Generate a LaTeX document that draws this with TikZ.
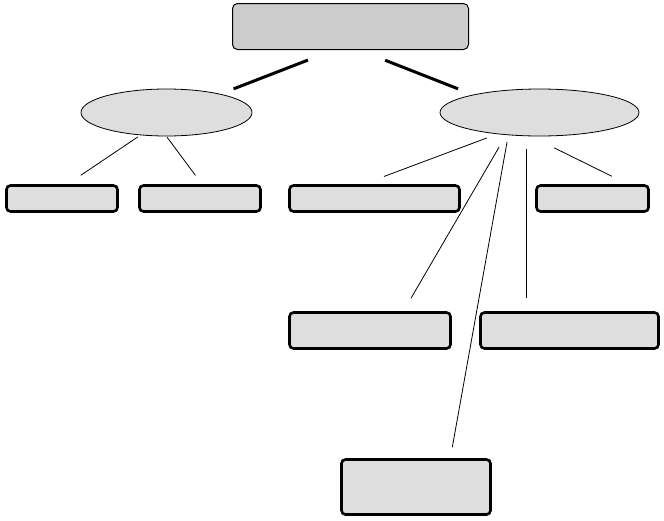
\documentclass[tikz,border=0pt]{standalone}
\usepackage{tikz}
\usetikzlibrary{shapes.geometric}
\definecolor{topgray}{gray}{0.8}
\definecolor{boxgray}{gray}{0.87}

\begin{document}
\begin{tikzpicture}[x=1pt, y=-1pt,
    topbox/.style={draw, fill=topgray, rounded corners=5pt, line width=1pt, inner sep=0pt},
    ellbox/.style={draw, ellipse, fill=boxgray, line width=0.8pt, inner sep=0pt},
    leafbox/.style={draw, fill=boxgray, rounded corners=4pt, line width=2.6pt, inner sep=0pt},
    thickline/.style={line width=3pt},
    thinline/.style={line width=0.8pt}]
            \useasboundingbox (0,0) rectangle (664,520);
            %顶层
            \node[topbox, minimum width=236pt, minimum height=46pt] (top) at (350.5,26.5) {};
            %第二层 (椭圆)
            \node[ellbox, minimum width=171pt, minimum height=47pt] (ellL) at (166.5,112.5) {};
            \node[ellbox, minimum width=199pt, minimum height=47pt] (ellR) at (539.5,112.5) {};
            %第三层
            \node[leafbox, minimum width=111pt, minimum height=26pt] (box1) at (62,198.5) {};
            \node[leafbox, minimum width=121pt, minimum height=26pt] (box2) at (200,198.5) {};
            \node[leafbox, minimum width=170pt, minimum height=26pt] (box3) at (374.5,198.5) {};
            \node[leafbox, minimum width=112pt, minimum height=26pt] (box4) at (592.5,198.5) {};
            \node[leafbox, minimum width=161pt, minimum height=36pt] (box5) at (370,330.5) {};
            \node[leafbox, minimum width=178pt, minimum height=36pt] (box6) at (569.5,330.5) {};
            \node[leafbox, minimum width=149pt, minimum height=55pt] (box7) at (416,487) {};
            %粗线
            \draw[thickline, shorten <=28pt, shorten >=14pt] (top.235) -- (ellL.19);
            \draw[thickline, shorten <=28pt, shorten >=16pt] (top.290) -- (ellR.165);
            %细线, 两端留空
            \draw[thinline, shorten <=3pt, shorten >=16pt] (ellL.221) -- (box1.69);
            \draw[thinline, shorten <=1pt, shorten >=11pt] (ellL.south) -- (box2.82);
            \draw[thinline, shorten <=11pt, shorten >=22pt] (ellR.207) -- (box3.128);
            \draw[thinline, shorten <=26pt, shorten >=18pt] (ellR.250) -- (box4.22);
            \draw[thinline, shorten <=14pt, shorten >=15pt] (ellR.214) -- (box5.30);
            \draw[thinline, shorten <=7pt, shorten >=11pt] (ellR.216) -- (box7.40);
            \draw[thinline, shorten <=13pt, shorten >=13pt] (ellR.241) -- (ellR.241 |- box6.north);
        \end{tikzpicture}
\end{document}
